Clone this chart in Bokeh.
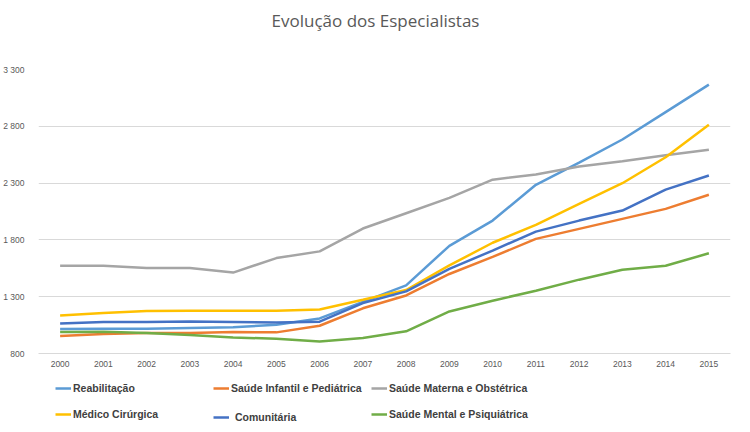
from bokeh.plotting import figure
from bokeh.layouts import column
from bokeh.models import Range1d, FixedTicker, Legend, LegendItem, Label
from bokeh.embed import file_html
from bokeh.resources import INLINE

years = [str(y) for y in range(2000, 2016)]
reabilitacao = [1015, 1018, 1018, 1024, 1030, 1053, 1109, 1255, 1400, 1748, 1970, 2285, 2480, 2684, 2925, 3167]
infantil = [953, 971, 980, 980, 989, 986, 1044, 1198, 1311, 1500, 1650, 1809, 1897, 1985, 2073, 2197]
materna = [1573, 1573, 1553, 1553, 1512, 1640, 1699, 1900, 2035, 2170, 2330, 2376, 2446, 2493, 2546, 2594]
medico = [1135, 1156, 1174, 1177, 1177, 1177, 1188, 1273, 1359, 1575, 1775, 1932, 2117, 2299, 2528, 2814]
comunitaria = [1065, 1077, 1077, 1082, 1077, 1072, 1080, 1244, 1347, 1545, 1706, 1873, 1970, 2058, 2243, 2367]
mental = [989, 992, 980, 962, 941, 930, 905, 936, 995, 1170, 1265, 1353, 1450, 1538, 1573, 1682]
y_ticks = [800, 1300, 1800, 2300, 2800, 3300]
y_tick_labels = ["800", "1 300", "1 800", "2 300", "2 800", "3 300"]
title_text = "Evolução dos Especialistas"

series = [
    ("Reabilitação", reabilitacao, "#5B9BD5"),
    ("Saúde Infantil e Pediátrica", infantil, "#ED7D31"),
    ("Saúde Materna e Obstétrica", materna, "#A5A5A5"),
    ("Médico Cirúrgica", medico, "#FFC000"),
    ("Comunitária", comunitaria, "#4472C4"),
    ("Saúde Mental e Psiquiátrica", mental, "#70AD47"),
]

W = 734

# ---- title strip
p0 = figure(width=W, height=40, output_backend="svg", toolbar_location=None,
            min_border=0, x_axis_location=None, y_axis_location=None,
            x_range=Range1d(0, 1), y_range=Range1d(0, 1))
p0.grid.visible = False
p0.outline_line_color = None
p0.border_fill_color = "white"
p0.background_fill_color = "white"
p0.add_layout(Label(x=337, y=20, x_units="screen", y_units="screen", text=title_text,
                    text_align="center", text_baseline="middle", text_font="Open Sans",
                    text_font_size="17px", text_color="#595959"))

# ---- main chart
p = figure(width=W, height=334, x_range=years, y_range=Range1d(800, 3300),
           output_backend="svg", toolbar_location=None,
           min_border_left=27, min_border_right=4, min_border_top=29, min_border_bottom=21)
p.x_range.range_padding = 0
p.outline_line_color = None
p.background_fill_color = "white"
p.border_fill_color = "white"

for name, vals, col in series:
    p.line(years, vals, line_color=col, line_width=2.5)

p.yaxis.ticker = FixedTicker(ticks=y_ticks)
p.yaxis.major_label_overrides = {t: l for t, l in zip(y_ticks, y_tick_labels)}
p.yaxis.axis_line_color = None
p.yaxis.major_tick_line_color = None
p.yaxis.minor_tick_line_color = None
p.yaxis.major_label_standoff = 8
p.xaxis.axis_line_color = "#d9d9d9"
p.xaxis.major_tick_line_color = None
p.xaxis.minor_tick_line_color = None
p.xaxis.major_label_standoff = 1
for ax in (p.xaxis, p.yaxis):
    ax.major_label_text_font = "Liberation Sans"
    ax.major_label_text_font_size = "8.5px"
    ax.major_label_text_color = "#595959"
p.xgrid.grid_line_color = None
p.ygrid.grid_line_color = "#d9d9d9"
p.ygrid.grid_line_width = 1

# ---- legend strip (series drawn off-frame; only legend keys are visible)
p2 = figure(width=W, height=50, output_backend="svg", toolbar_location=None,
            min_border=0, x_axis_location=None, y_axis_location=None,
            x_range=years, y_range=Range1d(0, 1))
p2.grid.visible = False
p2.outline_line_color = None
p2.border_fill_color = "white"
p2.background_fill_color = "white"
keys = {}
for name, vals, col in series:
    keys[name] = p2.line(years, vals, line_color=col, line_width=2.5)

def add_legend(names, x, y=0, standoff=2):
    lg = Legend(items=[LegendItem(label=n, renderers=[keys[n]]) for n in names],
                location=(x, y), padding=0, margin=0, spacing=6,
                glyph_width=16, glyph_height=20, label_height=20,
                label_standoff=standoff, background_fill_alpha=0, border_line_alpha=0,
                label_text_font="Liberation Sans", label_text_font_size="10.5px",
                label_text_font_style="bold", label_text_color="#404040")
    p2.add_layout(lg, "center")

add_legend(["Reabilitação", "Médico Cirúrgica"], 17)
add_legend(["Saúde Infantil e Pediátrica"], 175, 26)
add_legend(["Comunitária"], 175, -3, 6)
add_legend(["Saúde Materna e Obstétrica", "Saúde Mental e Psiquiátrica"], 333)

open("out.html", "w").write(file_html(column(p0, p, p2), INLINE))
